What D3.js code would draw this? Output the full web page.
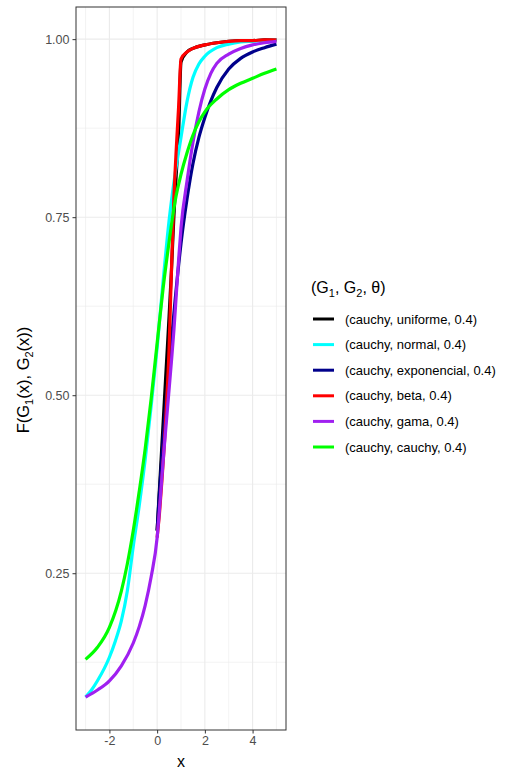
<!DOCTYPE html>
<html>
<head>
<meta charset="utf-8">
<script src="https://cdn.jsdelivr.net/npm/d3@7"></script>
<style>
  body { margin: 0; background: #fff; }
  text { font-family: "Liberation Sans", Arial, sans-serif; }
</style>
</head>
<body>
<div id="chart"></div>
<script>
// DATA
const seriesLabels = ["(cauchy, uniforme, 0.4)", "(cauchy, normal, 0.4)", "(cauchy, exponencial, 0.4)",
                      "(cauchy, beta, 0.4)", "(cauchy, gama, 0.4)", "(cauchy, cauchy, 0.4)"];
const seriesColors = ["#000000", "#00ffff", "#00008b", "#ff0000", "#a020f0", "#00ff00"];

const xUniforme = [0, 0.1, 0.2, 0.3, 0.4, 0.5, 0.6, 0.7, 0.8, 0.9, 1, 1.25, 1.5, 2, 2.5, 3, 3.5, 4, 4.5, 5];
const yUniforme = [0.31, 0.37, 0.43, 0.49, 0.55, 0.61, 0.675, 0.75, 0.81, 0.868, 0.968, 0.982, 0.987, 0.992, 0.995, 0.997, 0.998, 0.998, 0.999, 0.999];

const xNormal = [-3, -2.75, -2.5, -2, -1.75, -1.5, -1.25, -1, -0.75, -0.5, -0.25, 0, 0.25, 0.5, 0.75, 1, 1.25, 1.5, 1.75, 2, 2.5, 3, 3.5, 4, 4.5, 5];
const yNormal = [0.076, 0.086, 0.099, 0.132, 0.155, 0.183, 0.225, 0.288, 0.345, 0.41, 0.485, 0.567, 0.66, 0.745, 0.81, 0.862, 0.912, 0.946, 0.965, 0.976, 0.988, 0.993, 0.996, 0.997, 0.998, 0.999];

const xExponencial = [0, 0.1, 0.2, 0.3, 0.4, 0.5, 0.6, 0.75, 1, 1.25, 1.5, 1.75, 2, 2.5, 3, 3.5, 4, 4.5, 5];
const yExponencial = [0.31, 0.365, 0.415, 0.46, 0.502, 0.54, 0.577, 0.632, 0.713, 0.775, 0.825, 0.862, 0.89, 0.932, 0.958, 0.973, 0.982, 0.988, 0.993];

const xBeta = [0, 0.1, 0.2, 0.3, 0.4, 0.5, 0.6, 0.7, 0.8, 0.9, 1, 1.25, 1.5, 2, 2.5, 3, 3.5, 4, 4.5, 5];
const yBeta = [0.3, 0.335, 0.38, 0.43, 0.49, 0.565, 0.675, 0.775, 0.845, 0.905, 0.972, 0.982, 0.987, 0.992, 0.995, 0.997, 0.998, 0.998, 0.999, 0.999];

const xGama = [-3, -2.5, -2, -1.5, -1, -0.75, -0.5, -0.25, 0, 0.1, 0.2, 0.3, 0.4, 0.5, 0.6, 0.7, 0.8, 0.9, 1, 1.25, 1.5, 1.75, 2, 2.25, 2.5, 3, 3.5, 4, 4.5, 5];
const yGama = [0.076, 0.086, 0.099, 0.12, 0.152, 0.175, 0.205, 0.245, 0.3, 0.34, 0.385, 0.428, 0.468, 0.508, 0.548, 0.59, 0.64, 0.69, 0.735, 0.8, 0.855, 0.898, 0.93, 0.952, 0.966, 0.979, 0.987, 0.992, 0.995, 0.997];

const xCauchy = [-3, -2.5, -2, -1.5, -1.25, -1, -0.75, -0.5, -0.25, 0, 0.25, 0.5, 0.75, 1, 1.25, 1.5, 1.75, 2, 2.5, 3, 3.5, 4, 4.5, 5];
const yCauchy = [0.129, 0.146, 0.174, 0.225, 0.263, 0.31, 0.365, 0.425, 0.495, 0.573, 0.65, 0.715, 0.772, 0.81, 0.84, 0.865, 0.884, 0.898, 0.916, 0.929, 0.938, 0.945, 0.952, 0.958];

const xTicks = [-2, 0, 2, 4];
const xMinor = [-3, -1, 1, 3, 5];
const yTicks = [0.25, 0.5, 0.75, 1.0];
const yMinor = [0.125, 0.375, 0.625, 0.875];

const seriesX = [xUniforme, xNormal, xExponencial, xBeta, xGama, xCauchy];
const seriesY = [yUniforme, yNormal, yExponencial, yBeta, yGama, yCauchy];

// build series table
const series = seriesLabels.map((name, i) => ({
  name: name,
  color: seriesColors[i],
  values: seriesX[i].map((x, j) => ({ x: x, y: seriesY[i][j] }))
}));

// LAYOUT
const width = 507, height = 772;
const panel = { left: 76, right: 286, top: 7, bottom: 730 };

const svg = d3.select('#chart').append('svg')
  .attr('width', width)
  .attr('height', height);

// ggplot style 5% expansion
const allX = series.flatMap(s => s.values.map(d => d.x));
const allY = series.flatMap(s => s.values.map(d => d.y));
const [x0, x1] = d3.extent(allX);
const [y0, y1] = d3.extent(allY);
const xPad = (x1 - x0) * 0.05, yPad = (y1 - y0) * 0.05;

const xScale = d3.scaleLinear()
  .domain([x0 - xPad, x1 + xPad])
  .range([panel.left, panel.right]);
const yScale = d3.scaleLinear()
  .domain([y0 - yPad, y1 + yPad])
  .range([panel.bottom, panel.top]);

const g = svg.append('g');

// grid
g.selectAll('.minor-x').data(xMinor).enter().append('line')
  .attr('x1', d => xScale(d)).attr('x2', d => xScale(d))
  .attr('y1', panel.top).attr('y2', panel.bottom)
  .attr('stroke', '#ebebeb').attr('stroke-width', 0.6);
g.selectAll('.minor-y').data(yMinor).enter().append('line')
  .attr('x1', panel.left).attr('x2', panel.right)
  .attr('y1', d => yScale(d)).attr('y2', d => yScale(d))
  .attr('stroke', '#ebebeb').attr('stroke-width', 0.6);
g.selectAll('.major-x').data(xTicks).enter().append('line')
  .attr('x1', d => xScale(d)).attr('x2', d => xScale(d))
  .attr('y1', panel.top).attr('y2', panel.bottom)
  .attr('stroke', '#ebebeb').attr('stroke-width', 1.1);
g.selectAll('.major-y').data(yTicks).enter().append('line')
  .attr('x1', panel.left).attr('x2', panel.right)
  .attr('y1', d => yScale(d)).attr('y2', d => yScale(d))
  .attr('stroke', '#ebebeb').attr('stroke-width', 1.1);

// lines
const lineGenerator = d3.line()
  .x(d => xScale(d.x))
  .y(d => yScale(d.y))
  .curve(d3.curveMonotoneX);

g.selectAll('.chart-path').data(series).enter().append('path')
  .attr('class', 'chart-path')
  .attr('fill', 'none')
  .attr('stroke', d => d.color)
  .attr('stroke-width', 3.2)
  .attr('stroke-linejoin', 'round')
  .attr('d', d => lineGenerator(d.values));

// panel border
g.append('rect')
  .attr('x', panel.left).attr('y', panel.top)
  .attr('width', panel.right - panel.left)
  .attr('height', panel.bottom - panel.top)
  .attr('fill', 'none')
  .attr('stroke', '#333333')
  .attr('stroke-width', 1);

// axes
const xAxis = d3.axisBottom(xScale).tickValues(xTicks).tickSize(3.5).tickPadding(3).tickFormat(d3.format('d'));
const yAxis = d3.axisLeft(yScale).tickValues(yTicks).tickSize(3.5).tickPadding(3).tickFormat(d3.format('.2f'));

const xAxisG = svg.append('g')
  .attr('transform', `translate(0, ${panel.bottom})`)
  .call(xAxis);
const yAxisG = svg.append('g')
  .attr('transform', `translate(${panel.left}, 0)`)
  .call(yAxis);

[xAxisG, yAxisG].forEach(a => {
  a.select('.domain').remove();
  a.selectAll('.tick line').attr('stroke', '#333333').attr('stroke-width', 1);
  a.selectAll('.tick text')
    .attr('fill', '#4d4d4d')
    .style('font-size', '12.5px')
    .style('font-family', '"Liberation Sans", Arial, sans-serif');
});
xAxisG.selectAll('.tick text').text(d => d < 0 ? '-' + Math.abs(d) : d);

// axis titles
svg.append('text')
  .attr('x', (panel.left + panel.right) / 2)
  .attr('y', 767)
  .attr('text-anchor', 'middle')
  .style('font-size', '16px')
  .text('x');

const yTitle = svg.append('text')
  .attr('transform', `translate(29, 380) rotate(-90)`)
  .attr('text-anchor', 'middle')
  .style('font-size', '16.5px');
yTitle.append('tspan').text('F(G');
yTitle.append('tspan').attr('dy', 4).style('font-size', '11px').text('1');
yTitle.append('tspan').attr('dy', -4).text('(x), G');
yTitle.append('tspan').attr('dy', 4).style('font-size', '11px').text('2');
yTitle.append('tspan').attr('dy', -4).text('(x))');

// legend
const legend = svg.append('g').attr('transform', 'translate(311, 0)');
const lTitle = legend.append('text')
  .attr('x', 0).attr('y', 293)
  .style('font-size', '16px');
lTitle.append('tspan').text('(G');
lTitle.append('tspan').attr('dy', 4).style('font-size', '11px').text('1');
lTitle.append('tspan').attr('dy', -4).text(', G');
lTitle.append('tspan').attr('dy', 4).style('font-size', '11px').text('2');
lTitle.append('tspan').attr('dy', -4).text(', θ)');

const item = legend.selectAll('.legend-item').data(series).enter().append('g')
  .attr('class', 'legend-item')
  .attr('transform', (d, i) => `translate(0, ${319 + i * 25.6})`);
item.append('line')
  .attr('x1', 2).attr('x2', 23)
  .attr('stroke', d => d.color)
  .attr('stroke-width', 3);
item.append('text')
  .attr('x', 34).attr('y', 0)
  .attr('dy', '0.35em')
  .attr('fill', '#000')
  .style('font-size', '13px')
  .text(d => d.name);
</script>
</body>
</html>
